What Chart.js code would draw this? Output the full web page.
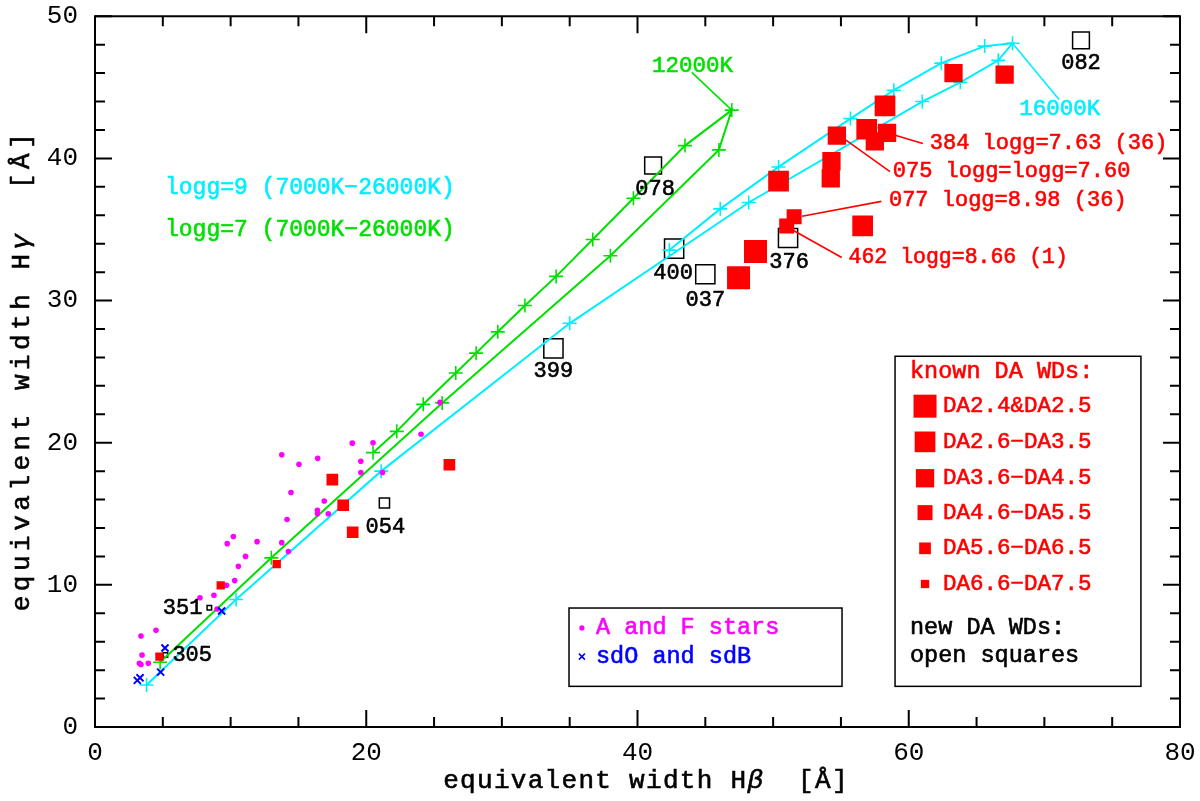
<!DOCTYPE html>
<html>
<head>
<meta charset="utf-8">
<title>Equivalent widths Hbeta / Hgamma</title>
<script src="https://cdn.jsdelivr.net/npm/chart.js@4.4.1/dist/chart.umd.min.js"></script>
<style>
  html, body { margin: 0; padding: 0; background: #fff; }
  #wrap { width: 1200px; height: 801px; }
</style>
</head>
<body>
<div id="wrap"><canvas id="ewChart" width="1200" height="801"></canvas></div>
<script>
// ---- data (equivalent widths in Angstrom) ----
// model track logg=7, 7000K -> 12000K (peak) -> 26000K
const g7HBeta  = [4.8, 13.0, 25.6, 38.0, 46.0, 46.95, 43.5, 39.7, 36.7, 34.0, 31.7, 29.7, 28.1, 26.6, 24.2, 22.25, 20.5];
const g7HGamma = [4.55, 11.9, 22.8, 33.15, 40.6, 43.4, 40.9, 37.2, 34.3, 31.7, 29.65, 27.8, 26.3, 24.9, 22.7, 20.8, 19.3];
// model track logg=9, 7000K -> 16000K (peak) -> 26000K
const g9HBeta  = [3.8, 10.4, 21.1, 35.0, 48.2, 61.0, 63.8, 66.6, 67.65, 65.6, 62.4, 58.9, 55.7, 50.4, 46.1, 42.35];
const g9HGamma = [2.95, 8.97, 18.0, 28.4, 36.9, 44.0, 45.35, 46.9, 48.1, 47.9, 46.7, 44.8, 42.8, 39.4, 36.45, 33.55];

// A and F stars
const afHBeta  = [13.77, 15.04, 16.42, 18.97, 20.5, 19.6, 19.6, 24.04, 14.45, 16.9, 16.4, 16.4, 17.2, 14.16, 21.2, 10.2, 9.75,
                  11.95, 11.1, 13.77, 14.26, 10.57, 10.3, 9.7, 8.77, 7.74, 9.0, 3.39, 4.5, 3.47, 3.27, 3.39, 3.93, 25.44];
const afHGamma = [19.15, 18.48, 18.9, 19.97, 20.0, 18.7, 17.9, 20.6, 16.5, 15.9, 15.25, 15.0, 15.0, 14.6, 17.9, 13.4, 12.9,
                  13.04, 12.0, 12.97, 12.34, 11.3, 10.3, 9.97, 9.27, 9.09, 8.3, 6.4, 6.8, 5.06, 4.48, 4.4, 4.48, 22.84];
// sdO and sdB
const sdHBeta  = [5.16, 3.32, 3.12, 4.84, 9.34];
const sdHGamma = [5.56, 3.46, 3.28, 3.86, 8.16];

// known DA white dwarfs, class = index into daClassNames
const daHBeta  = [63.3, 67.07, 58.25, 54.7, 56.9, 58.4, 57.5, 54.3, 54.25, 50.4, 51.55, 51.0, 56.6, 48.7, 47.45,
                  17.5, 18.3, 19.0, 26.13, 13.4, 9.27, 4.75];
const daHGamma = [46.0, 45.9, 43.7, 41.6, 42.05, 41.8, 41.2, 39.8, 38.6, 38.4, 35.9, 35.25, 35.25, 33.45, 31.6,
                  17.4, 15.6, 13.7, 18.45, 11.46, 9.97, 4.95];
const daClass  = [2, 2, 1, 2, 1, 2, 2, 2, 2, 1, 3, 3, 1, 0, 0, 4, 4, 4, 4, 5, 5, 5];
const daClassNames = ['DA2.4&DA2.5', 'DA2.6−DA3.5', 'DA3.6−DA4.5', 'DA4.6−DA5.5', 'DA5.6−DA6.5', 'DA6.6−DA7.5'];

// new DA white dwarfs (open squares)
const newNames  = ['082', '078', '400', '037', '376', '399', '054', '351', '305'];
const newHBeta  = [72.7, 41.15, 42.7, 45.0, 51.1, 33.8, 21.34, 8.43, 5.19];
const newHGamma = [48.3, 39.5, 33.66, 31.85, 34.4, 26.64, 15.76, 8.39, 5.07];
const newClass  = [2, 2, 1, 1, 1, 1, 4, 6, 6];

const xMajor = [0, 20, 40, 60, 80];
const yMajor = [0, 10, 20, 30, 40, 50];

// ---- styles ----
const MONO = '"Liberation Mono", "Courier New", monospace';
const RED = '#ff0000', GREEN = '#00e000', CYAN = '#00eeff', MAGENTA = '#ff00ff', BLUE = '#0000ff';
const classSide = [23, 20.7, 18.3, 15, 11.7, 8.3, 6];   // square side in px per class

// label placement for the open squares (pixel offsets)
const newLabelPos = [[0, 23, 'center'], [2, 24, 'center'], [-1, 25, 'center'], [0, 26, 'center'], [1, 24, 'center'],
                     [0, 23, 'center'], [1, 24, 'center'], [-7, 0, 'right'], [7, 0, 'left']];

// annotations in data coordinates
const notes = [
    { t: 'logg=9 (7000K−26000K)', x: 5.16, y: 37.94, c: CYAN, size: 23 },
    { t: 'logg=7 (7000K−26000K)', x: 5.16, y: 35.0, c: GREEN, size: 23 },
    { t: '12000K', x: 41.07, y: 46.5, c: GREEN, size: 22.5, line: [44.0, 46.05, 46.95, 43.4] },
    { t: '16000K', x: 68.15, y: 43.5, c: CYAN, size: 22.5, line: [67.65, 48.1, 71.08, 44.14] },
    { t: '384 logg=7.63 (36)', x: 61.55, y: 41.05, c: RED, size: 22, line: [59.0, 41.63, 61.04, 41.05] },
    { t: '075 logg=logg=7.60', x: 58.82, y: 39.07, c: RED, size: 22, line: [55.37, 41.28, 58.62, 39.07] },
    { t: '077 logg=8.98 (36)', x: 58.54, y: 37.05, c: RED, size: 22, line: [52.13, 35.93, 57.98, 36.98] },
    { t: '462 logg=8.66 (1)', x: 55.56, y: 33.03, c: RED, size: 21.5, line: [51.37, 35.0, 55.06, 33.03] }
];

function pts(xs, ys) {
    return xs.map((x, i) => ({ x: x, y: ys[i] }));
}

// filled text with a thin outline so the strokes look like the plot's pen
function text(ctx, s, x, y, color, size, align) {
    ctx.font = size + 'px ' + MONO;
    ctx.fillStyle = color;
    ctx.strokeStyle = color;
    ctx.lineWidth = 0.6;
    ctx.textAlign = align || 'left';
    ctx.textBaseline = 'middle';
    ctx.fillText(s, x, y);
    ctx.strokeText(s, x, y);
}

// text made of upright and italic runs, centred at (x, y)
function runs(ctx, parts, x, y, size) {
    const fonts = parts.map(p => (p.i ? 'italic ' : '') + size + 'px ' + MONO);
    let total = 0;
    const widths = parts.map((p, k) => { ctx.font = fonts[k]; const w = ctx.measureText(p.t).width; total += w; return w; });
    let cx = x - total / 2;
    ctx.textAlign = 'left';
    ctx.textBaseline = 'middle';
    ctx.fillStyle = '#000';
    ctx.strokeStyle = '#000';
    ctx.lineWidth = 0.6;
    parts.forEach((p, k) => {
        ctx.font = fonts[k];
        ctx.fillText(p.t, cx, y);
        ctx.strokeText(p.t, cx, y);
        cx += widths[k];
    });
}

const decor = {
    id: 'decor',
    afterDatasetsDraw(chart) {
        const ctx = chart.ctx, a = chart.chartArea;
        const sx = chart.scales.x, sy = chart.scales.y;
        const X = v => sx.getPixelForValue(v), Y = v => sy.getPixelForValue(v);
        ctx.save();

        // frame and inward ticks on all four sides
        ctx.strokeStyle = '#000';
        ctx.lineWidth = 2;
        ctx.strokeRect(a.left, a.top, a.right - a.left, a.bottom - a.top);
        ctx.beginPath();
        for (let v = 0; v <= 80; v += 5) {
            const L = xMajor.includes(v) ? 17 : 10, p = X(v);
            ctx.moveTo(p, a.bottom); ctx.lineTo(p, a.bottom - L);
            ctx.moveTo(p, a.top); ctx.lineTo(p, a.top + L);
        }
        for (let v = 0; v <= 50; v += 2) {
            const L = yMajor.includes(v) ? 17 : 10, p = Y(v);
            ctx.moveTo(a.left, p); ctx.lineTo(a.left + L, p);
            ctx.moveTo(a.right, p); ctx.lineTo(a.right - L, p);
        }
        ctx.stroke();

        // labels of the new DA WDs
        newNames.forEach((n, i) => {
            const o = newLabelPos[i];
            text(ctx, n, X(newHBeta[i]) + o[0], Y(newHGamma[i]) + o[1], '#000', 22, o[2]);
        });

        // annotations with leader lines
        notes.forEach(n => {
            if (n.line) {
                ctx.strokeStyle = n.c;
                ctx.lineWidth = 1.6;
                ctx.beginPath();
                ctx.moveTo(X(n.line[0]), Y(n.line[1]));
                ctx.lineTo(X(n.line[2]), Y(n.line[3]));
                ctx.stroke();
            }
            text(ctx, n.t, X(n.x), Y(n.y), n.c, n.size, 'left');
        });

        // legend box: A and F stars / sdO and sdB
        ctx.lineWidth = 1.5;
        ctx.strokeStyle = '#000';
        ctx.fillStyle = '#fff';
        ctx.fillRect(X(34.95), Y(8.37), X(55.08) - X(34.95), Y(2.86) - Y(8.37));
        ctx.strokeRect(X(34.95), Y(8.37), X(55.08) - X(34.95), Y(2.86) - Y(8.37));
        ctx.fillStyle = MAGENTA;
        ctx.beginPath(); ctx.arc(X(35.9), Y(6.97), 2.6, 0, Math.PI * 2); ctx.fill();
        text(ctx, 'A and F stars', X(36.94), Y(6.97), MAGENTA, 23.5);
        ctx.strokeStyle = BLUE;
        ctx.lineWidth = 1.5;
        ctx.beginPath();
        const bx = X(35.9), by = Y(4.95);
        ctx.moveTo(bx - 3, by - 3); ctx.lineTo(bx + 3, by + 3);
        ctx.moveTo(bx + 3, by - 3); ctx.lineTo(bx - 3, by + 3);
        ctx.stroke();
        text(ctx, 'sdO and sdB', X(36.94), Y(4.95), BLUE, 23.5);

        // legend box: WD classes
        ctx.lineWidth = 1.5;
        ctx.strokeStyle = '#000';
        ctx.fillStyle = '#fff';
        ctx.fillRect(X(58.99), Y(26.08), X(77.12) - X(58.99), Y(2.86) - Y(26.08));
        ctx.strokeRect(X(58.99), Y(26.08), X(77.12) - X(58.99), Y(2.86) - Y(26.08));
        text(ctx, 'known DA WDs:', X(60.09), Y(25.0), RED, 23.5);
        const rowY = [22.57, 20.06, 17.5, 15.08, 12.57, 10.06];
        daClassNames.forEach((name, k) => {
            const s = classSide[k], cx = X(61.2), cy = Y(rowY[k]);
            ctx.fillStyle = RED;
            ctx.fillRect(cx - s / 2, cy - s / 2, s, s);
            text(ctx, name, X(62.53), cy, RED, 22.5);
        });
        text(ctx, 'new DA WDs:', X(60.09), Y(6.95), '#000', 23.5);
        text(ctx, 'open squares', X(60.09), Y(5.02), '#000', 23.5);

        // axis titles
        ctx.letterSpacing = '1.3px';
        runs(ctx, [{ t: 'equivalent width H' }, { t: 'β', i: true }, { t: '  [Å]' }], 646, 781, 26);
        ctx.translate(22, 370);
        ctx.rotate(-Math.PI / 2);
        ctx.letterSpacing = '4.5px';
        runs(ctx, [{ t: 'equivalent width H' }, { t: 'γ', i: true }, { t: '  [Å]' }], 0, 0, 26);
        ctx.restore();
    }
};

const sqRadius = s => s / Math.SQRT2;

new Chart(document.getElementById('ewChart'), {
    type: 'scatter',
    data: {
        datasets: [
            {
                label: 'known DA WDs',
                data: pts(daHBeta, daHGamma),
                pointStyle: 'rect',
                pointRadius: daClass.map(c => sqRadius(classSide[c])),
                pointBackgroundColor: RED,
                pointBorderColor: RED,
                pointBorderWidth: 0,
                order: 1
            },
            {
                label: 'sdO and sdB',
                data: pts(sdHBeta, sdHGamma),
                pointStyle: 'crossRot',
                pointRadius: 5,
                pointBorderColor: BLUE,
                pointBorderWidth: 2,
                order: 2
            },
            {
                label: 'A and F stars',
                data: pts(afHBeta, afHGamma),
                pointStyle: 'circle',
                pointRadius: 2.8,
                pointBackgroundColor: MAGENTA,
                pointBorderWidth: 0,
                order: 3
            },
            {
                label: 'logg=9',
                data: pts(g9HBeta, g9HGamma),
                showLine: true,
                borderColor: CYAN,
                borderWidth: 2,
                pointStyle: 'cross',
                pointRadius: 7,
                pointBorderColor: CYAN,
                pointBorderWidth: 1.6,
                order: 4
            },
            {
                label: 'logg=7',
                data: pts(g7HBeta, g7HGamma),
                showLine: true,
                borderColor: GREEN,
                borderWidth: 2,
                pointStyle: 'cross',
                pointRadius: 7,
                pointBorderColor: GREEN,
                pointBorderWidth: 1.6,
                order: 5
            },
            {
                label: 'new DA WDs',
                data: pts(newHBeta, newHGamma),
                pointStyle: 'rect',
                pointRadius: newClass.map(c => sqRadius(classSide[c] - 1.5)),
                pointBackgroundColor: 'rgba(0,0,0,0)',
                pointBorderColor: '#000',
                pointBorderWidth: 1.5,
                order: 6
            }
        ]
    },
    options: {
        responsive: false,
        animation: false,
        devicePixelRatio: 1,
        events: [],
        layout: { padding: { top: 10, right: 20, left: 0, bottom: 0 } },
        plugins: {
            legend: { display: false },
            tooltip: { enabled: false }
        },
        scales: {
            x: {
                type: 'linear',
                min: 0,
                max: 80,
                grid: { display: false, drawTicks: false },
                border: { display: false },
                ticks: { font: { family: MONO, size: 26 }, color: '#000', padding: 11, maxRotation: 0 },
                afterBuildTicks: s => { s.ticks = xMajor.map(v => ({ value: v })); },
                afterFit: s => { s.height = 74; s.paddingLeft = 0; s.paddingRight = 0; }
            },
            y: {
                type: 'linear',
                min: 0,
                max: 50,
                grid: { display: false, drawTicks: false },
                border: { display: false },
                ticks: { font: { family: MONO, size: 26 }, color: '#000', padding: 17 },
                afterBuildTicks: s => { s.ticks = yMajor.map(v => ({ value: v })); },
                afterFit: s => { s.width = 95; s.paddingTop = 0; s.paddingBottom = 0; }
            }
        }
    },
    plugins: [decor]
});
</script>
</body>
</html>
